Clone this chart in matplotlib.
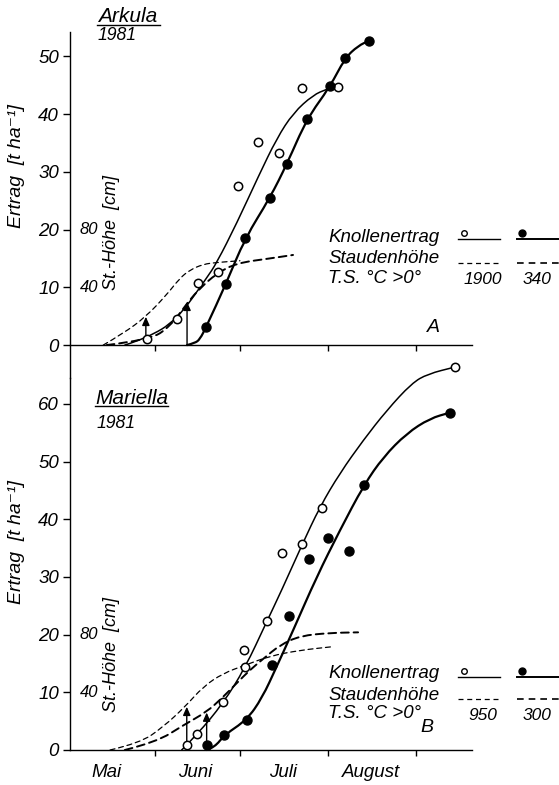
import matplotlib.pyplot as plt
from matplotlib.lines import Line2D
from matplotlib.path import Path
from matplotlib.patches import PathPatch

plt.rcParams['font.family'] = ['Liberation Sans', 'DejaVu Sans']
plt.rcParams['font.style'] = 'italic'

W, H = 559, 785

# x axis: day of year
month_starts = [152, 182, 213, 244]
month_mids = [135, 166, 197, 228]
month_names = ['Mai', 'Juni', 'Juli', 'August']

# ---- A: Arkula 1981 ----
a_open_day = [149.1, 159.9, 167.2, 174.3, 181.3, 188.4, 195.7, 203.7, 216.5]
a_open_y = [1.0, 4.6, 10.7, 12.7, 27.6, 35.2, 33.3, 44.5, 44.6]
a_fill_day = [170.0, 177.0, 183.7, 192.5, 198.6, 205.4, 213.6, 218.9, 227.4]
a_fill_y = [3.2, 10.6, 18.5, 25.4, 31.4, 39.2, 44.8, 49.7, 52.7]

a_open_curve_day = [141.4, 149.1, 159.6, 170.2, 173.7, 180.8, 188.4, 194.9, 200.7, 207.7, 212.5, 214.3]
a_open_curve_y = [0, 1.2, 4.3, 11.6, 14.2, 21.1, 29.2, 35.8, 40.2, 43.3, 44.3, 44.5]
a_fill_curve_day = [163.3, 166.1, 167.8, 170.0, 177.0, 183.7, 192.5, 198.5, 205.5, 213.6, 218.9, 223.5, 227.4]
a_fill_curve_y = [0, 0.35, 1.0, 3.1, 10.6, 18.5, 25.5, 31.4, 39.2, 44.7, 49.7, 51.8, 52.7]

# Staudenhoehe, in yield-axis units (1 unit = 4 cm)
a_h1_day = [133.8, 140.8, 148.8, 156.1, 160.8, 164.3, 169.0, 173.7, 181.9]
a_h1_y = [0, 2.0, 4.9, 8.7, 11.6, 13.0, 14.0, 14.3, 14.6]
a_h2_day = [135.0, 150.2, 157.3, 163.7, 167.8, 173.7, 180.8, 192.5, 200.6]
a_h2_y = [0, 0.9, 3.2, 7.5, 9.8, 12.4, 14.2, 15.0, 15.6]

a_arrows = [(148.8, 1.2, 4.9), (163.3, 0, 7.5)]

# ---- B: Mariella 1981 ----
b_open_day = [163.2, 166.9, 175.8, 183.7, 183.3, 191.3, 196.6, 203.7, 210.7, 257.6]
b_open_y = [0.9, 2.7, 8.4, 14.4, 17.3, 22.3, 34.1, 35.7, 41.9, 66.4]
b_fill_day = [170.2, 176.4, 184.3, 193.1, 199.3, 206.2, 212.8, 220.4, 225.6, 255.9]
b_fill_y = [0.9, 2.6, 5.2, 14.7, 23.2, 33.2, 36.8, 34.5, 46.0, 58.5]

b_open_curve_day = [161.4, 166.9, 176.0, 183.7, 191.3, 196.6, 203.7, 210.1, 217.1, 225.3, 233.6, 242.4, 248.0, 257.6]
b_open_curve_y = [0, 2.7, 8.1, 14.2, 22.2, 27.7, 35.5, 42.2, 48.0, 53.7, 58.9, 63.6, 65.2, 66.4]
b_fill_curve_day = [170.2, 173.1, 176.4, 184.3, 189.7, 194.8, 200.7, 208.9, 217.1, 225.6, 232.4, 240.6, 248.8, 255.9]
b_fill_curve_y = [0, 0.5, 2.6, 5.2, 9.0, 14.4, 20.8, 30.0, 38.1, 46.0, 50.8, 54.9, 57.5, 58.5]

b_h1_day = [136.2, 146.7, 154.9, 162.6, 169.0, 176.0, 183.7, 192.5, 203.1, 214.3]
b_h1_y = [0, 1.2, 4.0, 7.5, 11.0, 13.3, 14.7, 16.3, 17.3, 17.9]
b_h2_day = [141.4, 152.6, 162.0, 170.2, 175.6, 180.8, 185.5, 190.1, 196.0, 203.1, 213.6, 223.5]
b_h2_y = [0, 1.4, 4.3, 6.6, 9.0, 11.6, 13.9, 15.8, 18.2, 19.8, 20.3, 20.4]

b_arrows = [(163.2, 0.9, 7.5), (170.2, 0.9, 6.5)]

fig = plt.figure(figsize=(W / 100, H / 100), dpi=100)
ax_top = fig.add_axes([70 / W, 1 - 378 / H, 402 / W, 346 / H])
ax_bot = fig.add_axes([70 / W, 1 - 750 / H, 402 / W, 372 / H])


def smooth(ax, xs, ys, **kw):
    # quadratic bezier through the read points (points used as control points)
    verts = [(xs[0], ys[0])]
    codes = [Path.MOVETO]
    for i in range(1, len(xs) - 1):
        verts += [(xs[i], ys[i]), ((xs[i] + xs[i + 1]) / 2, (ys[i] + ys[i + 1]) / 2)]
        codes += [Path.CURVE3, Path.CURVE3]
    verts.append((xs[-1], ys[-1]))
    codes.append(Path.LINETO)
    ax.add_patch(PathPatch(Path(verts, codes), fill=False, edgecolor='black',
                           clip_on=False, capstyle='round', **kw))


def draw_panel(ax, od, oy, fd, fy, ocd, ocy, fcd, fcy, h1d, h1y, h2d, h2y, arrows):
    smooth(ax, ocd, ocy, lw=1.1)
    smooth(ax, fcd, fcy, lw=1.6)
    smooth(ax, h1d, h1y, lw=0.9, ls=(0, (4, 3)))
    smooth(ax, h2d, h2y, lw=1.4, ls=(0, (4, 2.5)))
    ax.plot(od, oy, 'o', ms=6, mfc='white', mec='black', mew=1.1, clip_on=False, zorder=4)
    ax.plot(fd, fy, 'o', ms=6.5, mfc='black', mec='black', clip_on=False, zorder=4)
    for d, y0, y1 in arrows:
        ax.annotate('', xy=(d, y1), xytext=(d, y0),
                    arrowprops=dict(arrowstyle='-|>,head_length=0.5,head_width=0.22',
                                    color='black', lw=1.0, shrinkA=0, shrinkB=0))
    ax.set_xlim(122.1, 263.6)
    for s in ['top', 'right']:
        ax.spines[s].set_visible(False)
    ax.spines['bottom'].set_position(('data', 0))
    ax.spines['left'].set_linewidth(1.0)
    ax.spines['bottom'].set_linewidth(1.0)
    ax.set_xticks(month_starts)
    ax.set_xticklabels([])
    ax.tick_params(axis='x', which='major', direction='out', length=4, width=1)
    ax.tick_params(axis='y', direction='out', length=5, width=1, pad=3, labelsize=13.5)
    ax.set_facecolor('none')
    ax.text(125.6, 20, '80', fontsize=12, va='center', ha='left')
    ax.text(125.6, 10, '40', fontsize=12, va='center', ha='left')


draw_panel(ax_top, a_open_day, a_open_y, a_fill_day, a_fill_y,
           a_open_curve_day, a_open_curve_y, a_fill_curve_day, a_fill_curve_y,
           a_h1_day, a_h1_y, a_h2_day, a_h2_y, a_arrows)
draw_panel(ax_bot, b_open_day, b_open_y, b_fill_day, b_fill_y,
           b_open_curve_day, b_open_curve_y, b_fill_curve_day, b_fill_curve_y,
           b_h1_day, b_h1_y, b_h2_day, b_h2_y, b_arrows)

ax_top.set_ylim(-5.7, 54.2)
ax_top.set_yticks([0, 10, 20, 30, 40, 50])
ax_bot.set_ylim(0, 64.5)
ax_bot.set_yticks([0, 10, 20, 30, 40, 50, 60])
ax_bot.set_xticks(month_mids, minor=True)
ax_bot.set_xticklabels(month_names, minor=True, fontsize=13.5)
ax_bot.tick_params(axis='x', which='minor', length=0, pad=10)


def fx(px):
    return px / W


def fy(py):
    return 1 - py / H


def under(x0, x1, y, lw=1.0, ls='-'):
    fig.add_artist(Line2D([fx(x0), fx(x1)], [fy(y), fy(y)], color='black', lw=lw, ls=ls))


# axis labels
fig.text(fx(17), fy(166), 'Ertrag  [t ha⁻¹]', rotation=90, fontsize=14, ha='center', va='center')
fig.text(fx(17), fy(542), 'Ertrag  [t ha⁻¹]', rotation=90, fontsize=14, ha='center', va='center')
fig.text(fx(111), fy(233), 'St.-Höhe  [cm]', rotation=90, fontsize=13, ha='center', va='center')
fig.text(fx(111), fy(655), 'St.-Höhe  [cm]', rotation=90, fontsize=13, ha='center', va='center')

# panel titles
fig.text(fx(98), fy(17), 'Arkula', fontsize=15, ha='left', va='center')
under(97, 160, 25)
fig.text(fx(98), fy(36), '1981', fontsize=12.7, ha='left', va='center')
fig.text(fx(95), fy(398), 'Mariella', fontsize=15, ha='left', va='center')
under(95, 168, 406)
fig.text(fx(97), fy(423), '1981', fontsize=12.7, ha='left', va='center')

fig.text(fx(433), fy(327), 'A', fontsize=14, ha='center', va='center')
fig.text(fx(427), fy(728), 'B', fontsize=14, ha='center', va='center')

# legends
for ky, ly, sy, ty, n1, n2 in [(238, 239, 259, 279, '1900', '340'),
                               (674, 677, 695, 714, '950', '300')]:
    fig.text(fx(328), fy(ky), 'Knollenertrag', fontsize=13.5, ha='left', va='center')
    fig.text(fx(328), fy(sy), 'Staudenhöhe', fontsize=13.5, ha='left', va='center')
    fig.text(fx(328), fy(ty), 'T.S. °C >0°', fontsize=13.5, ha='left', va='center')
    under(458, 500, ly)
    under(517, 559, ly, lw=1.4)
    fig.add_artist(Line2D([fx(464)], [fy(ly - 6)], marker='o', ms=4, mfc='white', mec='black', mew=1.0))
    fig.add_artist(Line2D([fx(522)], [fy(ly - 6)], marker='o', ms=5, mfc='black', mec='black'))
    under(458, 500, sy + 4, lw=0.9, ls=(0, (4, 3)))
    under(517, 559, sy + 4, lw=1.2, ls=(0, (4, 3)))
    fig.text(fx(483), fy(ty + 1), n1, fontsize=12.5, ha='center', va='center')
    fig.text(fx(537), fy(ty + 1), n2, fontsize=12.5, ha='center', va='center')

fig.savefig('out.png', dpi=100)
